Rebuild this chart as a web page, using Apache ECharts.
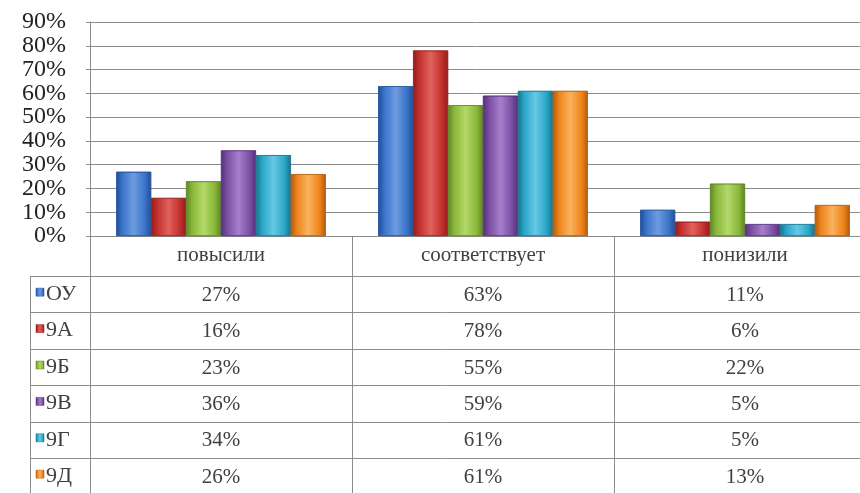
<!DOCTYPE html>
<html><head><meta charset="utf-8">
<script src="https://cdn.jsdelivr.net/npm/echarts@6/dist/echarts.min.js"></script>
<style>html,body{margin:0;padding:0;background:#fff}#c{width:860px;height:493px}</style>
</head><body><div id="c"></div>
<script>
var categories = ['повысили', 'соответствует', 'понизили'];
var seriesNames = ['ОУ', '9А', '9Б', '9В', '9Г', '9Д'];
var vOU = [27, 63, 11];
var v9A = [16, 78, 6];
var v9B = [23, 55, 22];
var v9V = [36, 59, 5];
var v9G = [34, 61, 5];
var v9D = [26, 61, 13];
var yTicks = [0, 10, 20, 30, 40, 50, 60, 70, 80, 90];

var values = [vOU, v9A, v9B, v9V, v9G, v9D];
var colors = [['#1f4f9a','#3a74c9','#6e9be0'],['#8e1e1c','#c4302c','#e0625e'],['#5f8424','#8ab83a','#b3d86a'],['#53307a','#7c4ea4','#a57fcb'],['#16728c','#2aa6c9','#66c9e3'],['#b35a0c','#ef841c','#f9b25e']];
var font = 'Liberation Serif, Times New Roman, serif';
var GL = 90, GT = 22, GB = 236, GW = 786;
var rowTop = 276, rowH = 36.4, tableLeft = 30;

function grad(c){
  return {type:'linear',x:0,y:0,x2:1,y2:0,colorStops:[
    {offset:0,color:c[0]},{offset:0.18,color:c[1]},{offset:0.5,color:c[2]},{offset:0.82,color:c[1]},{offset:1,color:c[0]}]};
}

var chart = echarts.init(document.getElementById('c'));
var series = seriesNames.map(function(n,i){
  return {name:n,type:'bar',data:values[i],barGap:'0%',barCategoryGap:'20%',
    itemStyle:{color:grad(colors[i]),borderColor:colors[i][0],borderWidth:0.6}};
});

chart.setOption({
  animation:false,
  backgroundColor:'#fff',
  grid:{left:GL,top:GT,width:GW,height:GB-GT,containLabel:false,outerBoundsMode:'none'},
  xAxis:{type:'category',data:categories,
    axisLine:{show:true,lineStyle:{color:'#8c8c8c'}},
    axisTick:{show:true,length:258,lineStyle:{color:'#8c8c8c'}},
    axisLabel:{margin:9,fontFamily:font,fontSize:21,color:'#404040'}},
  yAxis:{type:'value',min:yTicks[0],max:yTicks[yTicks.length-1],interval:10,
    axisLine:{show:true,lineStyle:{color:'#8c8c8c'}},
    axisTick:{show:true,length:4,lineStyle:{color:'#8c8c8c'}},
    splitLine:{show:true,lineStyle:{color:'#8c8c8c'}},
    axisLabel:{show:false}},
  series:series
});

var graphics = [];
var lineStyle = {stroke:'#8c8c8c',lineWidth:1};
for (var r=0;r<=seriesNames.length;r++){
  var y = Math.round(rowTop + r*rowH)+0.5;
  if (y < 493) graphics.push({type:'line',shape:{x1:tableLeft,y1:y,x2:GL+GW,y2:y},style:lineStyle,silent:true});
}
graphics.push({type:'line',shape:{x1:tableLeft+0.5,y1:rowTop,x2:tableLeft+0.5,y2:493},style:lineStyle,silent:true});
graphics.push({type:'line',shape:{x1:GL+0.5,y1:GT,x2:GL+0.5,y2:493},style:lineStyle,silent:true});
yTicks.forEach(function(t){
  var py = chart.convertToPixel({yAxisIndex:0}, t);
  graphics.push({type:'text',x:GL-24,y:py,style:{text:t+'%',font:'24px '+font,fill:'#222',align:'right',verticalAlign:'middle'},silent:true});
});
seriesNames.forEach(function(n,i){
  var cy = rowTop + (i+0.5)*rowH;
  graphics.push({type:'rect',shape:{x:36,y:cy-6,width:8,height:8},style:{fill:grad(colors[i]),stroke:colors[i][0],lineWidth:0.5},silent:true});
  graphics.push({type:'text',x:46,y:cy,style:{text:n,font:'22px '+font,fill:'#404040',verticalAlign:'middle',align:'left'},silent:true});
  categories.forEach(function(c,j){
    var cx = chart.convertToPixel({xAxisIndex:0}, c);
    graphics.push({type:'text',x:cx,y:cy+1,style:{text:values[i][j]+'%',font:'21px '+font,fill:'#404040',align:'center',verticalAlign:'middle'},silent:true});
  });
});
chart.setOption({graphic:graphics});
</script></body></html>
